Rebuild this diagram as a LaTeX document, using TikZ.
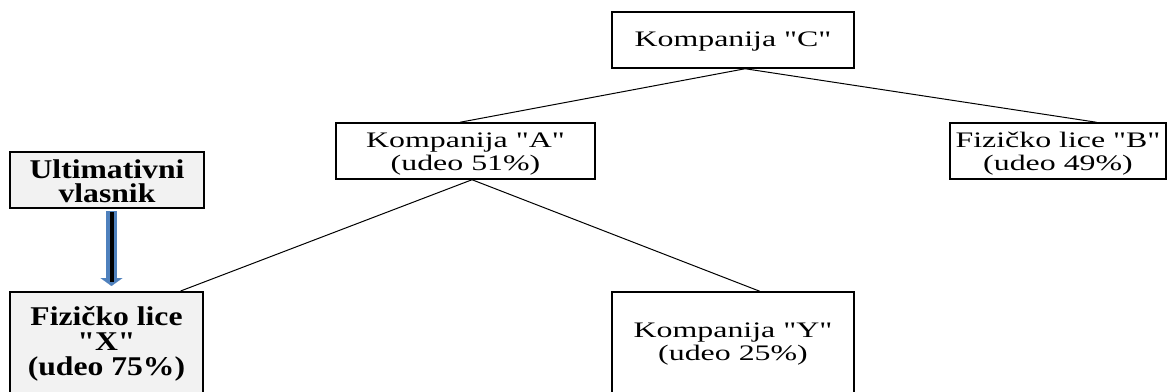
\documentclass[tikz,border=0pt]{standalone}
\usepackage{fontspec}
\newfontfamily\regf{Liberation Serif}[FakeStretch=1.44]
\newfontfamily\boldf{Liberation Serif}[FakeStretch=1.17]
\usetikzlibrary{arrows.meta,calc}
\definecolor{boxgray}{HTML}{F2F2F2}
\definecolor{arrowblue}{HTML}{4F81BD}
\newcommand{\topgap}[1]{\rule{0pt}{#1}}
\begin{document}
\begin{tikzpicture}[x=0.75pt,y=-0.75pt,
  box/.style={draw=black, line width=1.1pt, rectangle, inner sep=0pt, align=center,
    font=\regf\fontsize{16.6}{17}\selectfont},
  gbox/.style={box, fill=boxgray, line width=1.5pt,
    font=\boldf\bfseries\fontsize{20.3}{18.6}\selectfont},
  link/.style={draw=black, line width=0.75pt},
  bluearrow/.style={draw=arrowblue, line width=8.25pt, shorten <=1.5pt, shorten >=3.75pt,
    -{Triangle[length=6pt 0 0, width=16.5pt 0 0, line width=0.1pt]}},
  innerline/.style={draw=black, line width=3pt, shorten <=2.25pt, shorten >=6.75pt}
]
\useasboundingbox (0,0) rectangle (1167,392);
\begin{scope}
\clip (0,0) rectangle (1167,392);
\node[box, minimum width=181.5pt, minimum height=42pt] (C) at (733,40) {\topgap{13.8pt}Kompanija "C"};
\node[box, minimum width=194.25pt, minimum height=42pt] (A) at (465.5,151) {\topgap{15.3pt}Kompanija "A"\\(udeo 51\%)};
\node[box, minimum width=162pt, minimum height=42pt] (B) at (1058,151) {\topgap{15.3pt}Fizičko lice "B"\\(udeo 49\%)};
\node[gbox, minimum width=145.5pt, minimum height=42pt] (U) at (107,180) {\topgap{16pt}Ultimativni\\vlasnik};
\node[gbox, minimum width=144.75pt, minimum height=78pt] (X) at (106.5,344) {Fizičko lice\\"X"\\(udeo 75\%)};
\node[box, minimum width=181.5pt, minimum height=78pt] (Y) at (733,344) {Kompanija "Y"\\(udeo 25\%)};

\coordinate (cj) at ($(C.south west)!0.55!(C.south east)$);
\coordinate (at) at ($(A.north west)!0.479!(A.north east)$);
\coordinate (bt) at ($(B.north west)!0.677!(B.north east)$);
\coordinate (ab) at ($(A.south west)!0.525!(A.south east)$);
\coordinate (xt) at ($(X.north west)!0.88!(X.north east)$);
\coordinate (yt) at ($(Y.north west)!0.61!(Y.north east)$);
\coordinate (ax) at (111.5,0);

\draw[link] (cj) -- (at);
\draw[link] (cj) -- (bt);
\draw[link] (ab) -- (xt);
\draw[link] (ab) -- (yt);

\draw[bluearrow] (U.south -| ax) -- (X.north -| ax);
\draw[innerline] (U.south -| ax) -- (X.north -| ax);
\end{scope}
\end{tikzpicture}
\end{document}
